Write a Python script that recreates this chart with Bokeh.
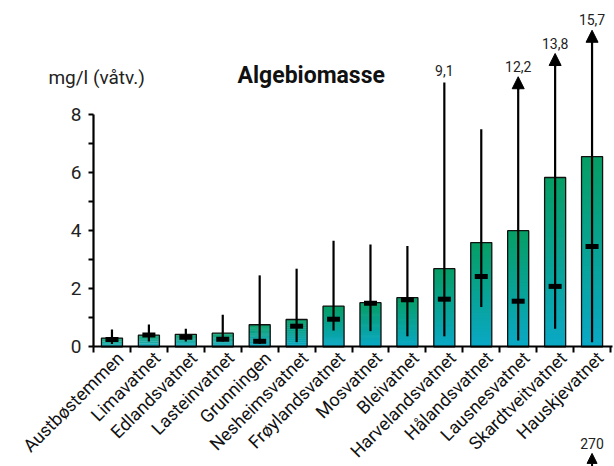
import math
import numpy as np
from bokeh.plotting import figure
from bokeh.models import (Range1d, FixedTicker, Label, Arrow, NormalHead,
                          ColumnDataSource)
from bokeh.core.properties import value
from bokeh.embed import file_html
from bokeh.resources import INLINE

# ---------------- data ----------------
lakes = ["Austbøstemmen", "Limavatnet", "Edlandsvatnet", "Lasteinvatnet",
         "Grunningen", "Nesheimsvatnet", "Frøylandsvatnet", "Mosvatnet",
         "Bleivatnet", "Harvelandsvatnet", "Hålandsvatnet", "Lausnesvatnet",
         "Skardtveitvatnet", "Hauskjevatnet"]
mean_vals = [0.30, 0.40, 0.43, 0.47, 0.76, 0.94, 1.40, 1.52, 1.69, 2.69,
             3.59, 4.00, 5.83, 6.55]
median_vals = [0.25, 0.41, 0.33, 0.26, 0.19, 0.71, 0.95, 1.50, 1.62, 1.64,
               2.42, 1.57, 2.08, 3.45]
min_vals = [0.10, 0.18, 0.18, 0.18, 0.10, 0.16, 0.56, 0.54, 0.36, 0.36,
            1.37, 0.22, 0.62, 0.16]
max_vals = [0.60, 0.77, 0.62, 1.10, 2.46, 2.69, 3.65, 3.52, 3.47, 9.1,
            7.49, 12.2, 13.8, 15.7]
y_ticks = [0, 2, 4, 6, 8]
y_minor = [1, 3, 5, 7]
note_lake = ["Hauskjevatnet"]
note_text = ["270"]

FONT = "Roboto"
n = len(lakes)
idx = list(range(n))

W, H = 614, 466
px_per_cat = 36.93
px_per_unit = 29.04
axis_x_px = 93.0     # where the y axis sits
axis_y_px = 346.3    # where the x axis sits
x0 = -0.5 - axis_x_px / px_per_cat
x1 = -0.5 + (W - axis_x_px) / px_per_cat
y0 = -(H - axis_y_px) / px_per_unit
y1 = axis_y_px / px_per_unit

p = figure(width=W, height=H, output_backend="svg", toolbar_location=None,
           x_range=Range1d(x0, x1), y_range=Range1d(y0, y1),
           min_border_left=0, min_border_right=0, min_border_top=0,
           min_border_bottom=0)
p.xgrid.visible = False
p.ygrid.visible = False
p.outline_line_color = None
p.background_fill_color = "white"

# ---------------- bars with vertical gradient ----------------
N = 40
c_bot = np.array([10, 168, 198])
c_top = np.array([6, 158, 100])
gx, gb, gt, gc = [], [], [], []
for i, v in enumerate(mean_vals):
    for k in range(N):
        t = (k + 0.5) / N
        c = c_bot + (c_top - c_bot) * t
        gx.append(i)
        gb.append(v * k / N)
        gt.append(min(v, v * (k + 1.6) / N))
        gc.append("#%02x%02x%02x" % tuple(int(round(a)) for a in c))
p.vbar(x=gx, bottom=gb, top=gt, width=0.57, fill_color=gc, line_color=None)
p.vbar(x=idx, top=mean_vals, width=0.57, fill_color=None,
       line_color="#111111", line_width=1.3)

# ---------------- whiskers ----------------
cap_limit = 9.3
cap_step = 0.8
seg_y1 = []
arrows_x, arrows_tip = [], []
lab_x, lab_y, lab_t = [], [], []
k = 0
for i, h in enumerate(max_vals):
    if h > cap_limit:
        tip = cap_limit + cap_step * k
        k += 1
        seg_y1.append(tip - 0.25)
        arrows_x.append(i)
        arrows_tip.append(tip)
        lab_x.append(i)
        lab_y.append(tip + 0.17)
        lab_t.append(f"{h:.1f}".replace(".", ","))
    else:
        seg_y1.append(h)
        if h > y_ticks[-1]:
            lab_x.append(i)
            lab_y.append(h + 0.22)
            lab_t.append(f"{h:.1f}".replace(".", ","))

p.segment(x0=idx, y0=min_vals, x1=idx, y1=seg_y1, line_color="black",
          line_width=2.2)
asrc = ColumnDataSource(dict(x=arrows_x, y0=[t - 0.45 for t in arrows_tip],
                             y1=arrows_tip))
p.add_layout(Arrow(x_start="x", y_start="y0", x_end="x", y_end="y1",
                   source=asrc, line_width=2.2, line_color="black",
                   end=NormalHead(size=12, fill_color="black",
                                  line_color="black")))
p.text(x=lab_x, y=lab_y, text=lab_t, text_align="center",
       text_baseline="bottom", text_font=value(FONT),
       text_font_size="14px", text_color="#222222")

# medians
p.rect(x=idx, y=median_vals, width=13, height=5, width_units="screen",
       height_units="screen", fill_color="black", line_color=None)

# ---------------- axes ----------------
label_shift = 0.22   # rotated labels end slightly right of the bar centre
label_pos = [round(i + label_shift, 2) for i in idx]
xa = p.xaxis[0]
xa.fixed_location = 0
xa.bounds = (-0.5, n - 0.45)
xa.ticker = FixedTicker(ticks=label_pos,
                        minor_ticks=[i - 0.5 for i in range(n + 1)])
xa.major_label_overrides = {pos: name for pos, name in zip(label_pos, lakes)}
xa.major_tick_in = 0
xa.major_tick_out = 0
xa.minor_tick_in = 0
xa.minor_tick_out = 6
xa.minor_tick_line_width = 2
xa.minor_tick_line_color = "black"
xa.axis_line_width = 2.2
xa.axis_line_color = "black"
xa.major_label_orientation = math.pi / 4
xa.major_label_standoff = 2
xa.major_label_text_font = FONT
xa.major_label_text_font_size = "18px"
xa.major_label_text_color = "#111111"

ya = p.yaxis[0]
ya.fixed_location = -0.5
ya.ticker = FixedTicker(ticks=y_ticks, minor_ticks=y_minor)
ya.bounds = (y_ticks[0], y_ticks[-1])
ya.major_tick_in = 0
ya.major_tick_out = 5
ya.minor_tick_in = 0
ya.minor_tick_out = 5
ya.major_tick_line_width = 2
ya.minor_tick_line_width = 2
ya.minor_tick_line_color = "black"
ya.axis_line_width = 2.2
ya.axis_line_color = "black"
ya.major_label_standoff = 7
ya.major_label_text_font = FONT
ya.major_label_text_font_size = "19px"
ya.major_label_text_color = "#222222"

# ---------------- texts ----------------
p.add_layout(Label(x=3.4, y=9.34, text="Algebiomasse", text_font=FONT,
                   text_font_size="23px", text_font_style="bold",
                   text_baseline="middle", text_color="#111111"))
p.add_layout(Label(x=-1.72, y=9.27, text="mg/l (våtv.)", text_font=FONT,
                   text_font_size="19px", text_baseline="middle",
                   text_color="#222222"))

# off-scale note at the bottom
ni = lakes.index(note_lake[0])
p.add_layout(Label(x=ni, y=-3.33, text=note_text[0], text_font=FONT,
                   text_font_size="14px", text_align="center",
                   text_baseline="middle", text_color="#222222"))
p.add_layout(Arrow(x_start=ni, y_start=-4.5, x_end=ni, y_end=-3.67,
                   line_width=2, line_color="black",
                   end=NormalHead(size=10, fill_color="black",
                                  line_color="black")))

open("out.html", "w").write(file_html(p, INLINE))
